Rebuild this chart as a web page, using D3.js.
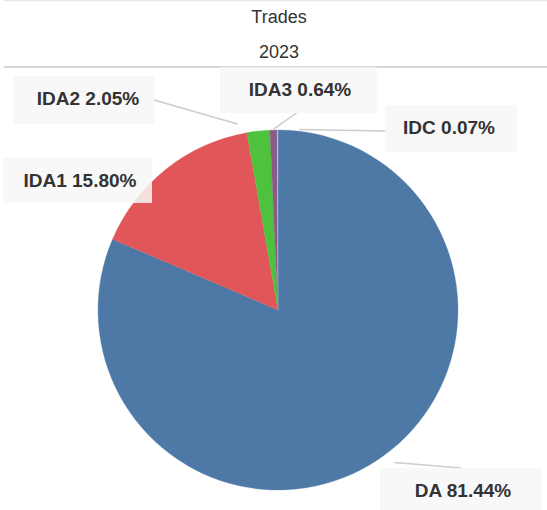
<!DOCTYPE html>
<html>
<head>
<meta charset="utf-8">
<script src="https://cdn.jsdelivr.net/npm/d3@7"></script>
<style>
  body { margin: 0; background: #fff; }
  svg { display: block; font-family: 'Liberation Sans', Arial, sans-serif; }
</style>
</head>
<body>
<script>
const categories = ['DA', 'IDA1', 'IDA2', 'IDA3', 'IDC']
const shares = [81.44, 15.80, 2.05, 0.64, 0.07]
const colors = ['#4e79a7', '#e15759', '#4ec23c', '#8c5a88', '#a6cbe6']
const titleLines = ['Trades', '2023']

// label layout: text centre, box [x, y, w, h], where the leader line meets the box
const labelPos = [[463, 490], [80, 180], [88, 98], [300, 89], [449, 127]]
const labelBox = [[380, 468, 162, 44], [3, 158, 149, 45], [14, 76, 140, 48], [220, 67, 157, 46], [385, 105, 132, 47]]
const labelAnchor = ['top', 'none', 'right', 'bottom', 'left']

const width = 547
const height = 510
const cx = 278
const cy = 310
const radius = 180

const svg = d3.select('body').append('svg')
  .attr('width', width)
  .attr('height', height)

// frame lines
svg.append('line')
  .attr('x1', 4).attr('x2', width).attr('y1', 0.5).attr('y2', 0.5)
  .style('stroke', '#e6e6e6').style('stroke-width', 1.5)
svg.append('line')
  .attr('x1', 4).attr('x2', width).attr('y1', 67).attr('y2', 67)
  .style('stroke', '#d6d6d6').style('stroke-width', 2)

svg.selectAll('.title')
  .data(titleLines)
  .enter().append('text')
  .attr('class', 'title')
  .attr('x', 279)
  .attr('y', (d, i) => 23 + i * 35)
  .attr('text-anchor', 'middle')
  .style('font-size', '18px')
  .style('fill', '#333')
  .text(d => d)

const data = categories.map((c, i) => ({
  name: c, value: shares[i], color: colors[i],
  pos: labelPos[i], box: labelBox[i], anchor: labelAnchor[i]
}))

const pie = d3.pie().sort(null).value(d => d.value)
const arcs = pie(data)

const arc = d3.arc().innerRadius(0).outerRadius(radius)

const g = svg.append('g').attr('transform', `translate(${cx}, ${cy})`)

g.selectAll('.slice')
  .data(arcs)
  .enter().append('path')
  .attr('class', 'slice')
  .attr('d', arc)
  .style('fill', d => d.data.color)
  .style('stroke', d => d.data.color)
  .style('stroke-width', 0.3)

// leader lines
arcs.forEach(d => {
  const [bx, by, bw, bh] = d.data.box
  let ex, ey
  if (d.data.anchor === 'none') return
  if (d.data.anchor === 'top') { ex = bx + bw / 2; ey = by }
  if (d.data.anchor === 'bottom') { ex = bx + bw / 2 - 2; ey = by + bh }
  if (d.data.anchor === 'right') { ex = bx + bw; ey = d.data.pos[1] + 2 }
  if (d.data.anchor === 'left') { ex = bx; ey = d.data.pos[1] + 4 }
  const mid = (d.startAngle + d.endAngle) / 2
  const px = cx + (radius + 1) * Math.sin(mid)
  const py = cy - (radius + 1) * Math.cos(mid)
  const f = d.data.anchor === 'bottom' ? 0 : 0.2
  svg.append('line')
    .attr('x1', px + (ex - px) * f).attr('y1', py + (ey - py) * f)
    .attr('x2', ex).attr('y2', ey)
    .style('stroke', '#cccccc')
    .style('stroke-width', 1.5)
})

// label boxes and texts
const labels = svg.selectAll('.label')
  .data(arcs)
  .enter().append('g')
  .attr('class', 'label')

labels.append('rect')
  .attr('x', d => d.data.box[0])
  .attr('y', d => d.data.box[1])
  .attr('width', d => d.data.box[2])
  .attr('height', d => d.data.box[3])
  .style('fill', '#f7f7f7')
  .style('fill-opacity', 0.85)

labels.append('text')
  .attr('x', d => d.data.pos[0])
  .attr('y', d => d.data.pos[1])
  .attr('text-anchor', 'middle')
  .attr('dy', '0.35em')
  .style('font-size', '19px')
  .style('font-weight', 'bold')
  .style('fill', '#333')
  .text(d => `${d.data.name} ${d.data.value.toFixed(2)}%`)
</script>
</body>
</html>
